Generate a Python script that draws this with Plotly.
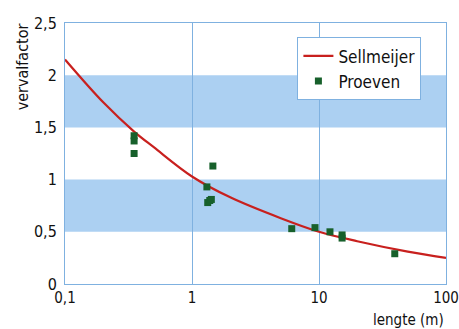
import plotly.graph_objects as go

# Data
curve_x = [0.1, 0.2, 0.35, 0.5, 1, 2, 5, 10, 20, 50, 100]
curve_y = [2.15, 1.74, 1.46, 1.31, 1.03, 0.83, 0.63, 0.50, 0.41, 0.31, 0.25]

proef_x = [0.35, 0.35, 0.35, 1.46, 1.31, 1.33, 1.38, 1.42, 6.1, 9.3, 12.2, 15.2, 15.2, 39.5]
proef_y = [1.42, 1.37, 1.25, 1.13, 0.93, 0.78, 0.80, 0.81, 0.53, 0.54, 0.50, 0.47, 0.44, 0.29]

band_low = [0.5, 1.5]
band_high = [1.0, 2.0]

x_tickvals = [0.1, 1, 10, 100]
x_ticktext = ["0,1", "1", "10", "100"]
y_tickvals = [0, 0.5, 1, 1.5, 2, 2.5]
y_ticktext = ["0", "0,5", "1", "1,5", "2", "2,5"]

FONT = "DejaVu Sans Condensed, Liberation Sans Narrow, sans-serif"
BLUE = "#7fb1e0"

fig = go.Figure()
fig.add_trace(go.Scatter(x=curve_x, y=curve_y, mode="lines", name="Sellmeijer",
                         line=dict(color="#c8201e", width=2.2, shape="spline")))
fig.add_trace(go.Scatter(x=proef_x, y=proef_y, mode="markers", name="Proeven",
                         marker=dict(symbol="square", color="#17602b", size=7)))

for lo, hi in zip(band_low, band_high):
    fig.add_shape(type="rect", xref="paper", yref="y", x0=0, x1=1, y0=lo, y1=hi,
                  fillcolor="#acd0f2", line=dict(width=0), layer="below")

fig.update_layout(
    width=459, height=329,
    margin=dict(l=65, r=13, t=23, b=45),
    paper_bgcolor="white", plot_bgcolor="white",
    font=dict(family=FONT, size=16, color="#111"),
    showlegend=True,
    legend=dict(x=0.61, y=0.945, xanchor="left", yanchor="top",
                bgcolor="white", bordercolor=BLUE, borderwidth=1,
                tracegroupgap=2,
                font=dict(family=FONT, size=17, color="#111")),
    xaxis=dict(type="log", range=[-1, 2], tickvals=x_tickvals, ticktext=x_ticktext,
               showgrid=True, gridcolor=BLUE, gridwidth=1, showline=True,
               linecolor=BLUE, linewidth=1, mirror=True, ticks="", zeroline=False,
               ticklabeloverflow="allow", automargin=False,
               tickfont=dict(family=FONT, size=15)),
    yaxis=dict(range=[0, 2.5], tickvals=y_tickvals, ticktext=y_ticktext,
               showgrid=False, showline=True, linecolor=BLUE, linewidth=1,
               mirror=True, ticks="outside", ticklen=4, tickcolor="rgba(0,0,0,0)",
               zeroline=False, automargin=False, tickfont=dict(family=FONT, size=16)),
    annotations=[
        dict(text="vervalfactor", xref="paper", yref="paper", x=-0.113, y=1.008,
             xanchor="center", yanchor="top", textangle=-90, showarrow=False,
             font=dict(family=FONT, size=16)),
        dict(text="lengte (m)", xref="paper", yref="paper", x=1.0, y=-0.095,
             xanchor="right", yanchor="top", showarrow=False,
             font=dict(family=FONT, size=15)),
    ],
)

# remove the browser's default 8px body margin so the figure fills the window exactly
fig.write_html("out.html", config={"displayModeBar": False},
               post_script="document.body.style.margin='0';document.body.style.overflow='hidden';")
